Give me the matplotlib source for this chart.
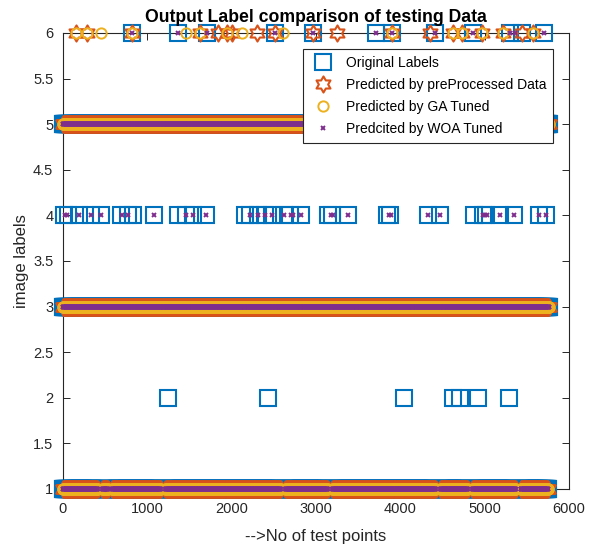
import numpy as np
import matplotlib
matplotlib.use("Agg")
import matplotlib.pyplot as plt
from matplotlib.path import Path
from matplotlib.lines import Line2D
from matplotlib.ticker import FormatStrFormatter

plt.rcParams['font.family'] = ['Liberation Sans', 'DejaVu Sans']

# ---- sparse classes: sample indices (x) of each marker ----
orig_label6 = [818, 1364, 1708, 2514, 2965, 3712, 3902, 4412, 4863, 5301, 5444, 5705]
pre_label6 = [154, 285, 818, 1625, 1838, 1945, 2004, 2301, 2514, 2965, 3250, 3902,
              4353, 4625, 4732, 4969, 5218, 5444, 5574]
ga_label6 = [154, 285, 451, 818, 1459, 1625, 1945, 2123, 2609, 3902, 4625, 4732,
             4969, 5218, 5574]
woa_label6 = [818, 1364, 1708, 2514, 2965, 3712, 3902, 4412, 4863, 5301, 5361, 5705]

orig_label4 = [12, 59, 190, 332, 451, 688, 771, 830, 1079, 1364, 1459, 1542, 1696,
               2159, 2218, 2313, 2396, 2479, 2621, 2692, 2823, 3143, 3190, 3380,
               3843, 3878, 4329, 4471, 4874, 4981, 5017, 5183, 5349, 5645, 5728]
woa_label4 = [24, 47, 190, 332, 451, 700, 771, 1079, 1459, 1542, 1696, 2218, 2313,
              2396, 2479, 2621, 2704, 2728, 2823, 3178, 3202, 3380, 3866, 3890,
              4329, 4471, 4981, 5005, 5029, 5183, 5349, 5645, 5728]

orig_label2 = [1245, 2431, 4044, 4625, 4708, 4922, 5290]

# ---- dense classes: index spans occupied by each label ----
span_label1 = [(0, 415), (465, 535), (580, 1160), (1215, 2585), (2635, 3140),
               (3195, 4420), (4475, 4800), (4855, 5370), (5425, 5755)]
span_label3 = [(0, 5765)]
span_label5 = [(0, 5765)]

band_step = 4

BLUE = (0.0, 0.447, 0.741)
ORANGE = (0.85, 0.325, 0.098)
YELLOW = (0.929, 0.694, 0.125)
PURPLE = (0.494, 0.184, 0.556)
AXCOL = '#262626'

# Star-of-David marker (six-pointed, point up)
_ang_out = np.deg2rad(90 + 60 * np.arange(6))
_ang_in = np.deg2rad(120 + 60 * np.arange(6))
_r_in = 1 / np.sqrt(3)
_verts = []
for a_o, a_i in zip(_ang_out, _ang_in):
    _verts.append((np.cos(a_o), np.sin(a_o)))
    _verts.append((_r_in * np.cos(a_i), _r_in * np.sin(a_i)))
_verts.append(_verts[0])
hexagram = Path(_verts, [Path.MOVETO] + [Path.LINETO] * 11 + [Path.CLOSEPOLY])

styles = {
    'orig': dict(marker='s', ms=11.0, mew=1.5, mfc='none', mec=BLUE),
    'pre': dict(marker=hexagram, ms=11.6, mew=1.5, mfc='none', mec=ORANGE),
    'ga': dict(marker='o', ms=7.4, mew=1.4, mfc='none', mec=YELLOW),
    'woa': dict(marker='x', ms=3.2, mew=1.4, mec=PURPLE),
}


def span_points(spans):
    return np.concatenate([np.arange(a, b + 1, band_step) for a, b in spans])


fig = plt.figure(figsize=(5.96, 5.48), dpi=100)
ax = fig.add_axes([0.1057, 0.1077, 0.8490, 0.8321])

series = {'orig': [], 'pre': [], 'ga': [], 'woa': []}
for lab, spans in ((1, span_label1), (3, span_label3), (5, span_label5)):
    idx = span_points(spans)
    for key in series:
        series[key].append((idx, np.full(idx.shape, lab)))
series['orig'] += [(np.array(orig_label6), np.full(len(orig_label6), 6)),
                   (np.array(orig_label4), np.full(len(orig_label4), 4)),
                   (np.array(orig_label2), np.full(len(orig_label2), 2))]
series['pre'] += [(np.array(pre_label6), np.full(len(pre_label6), 6))]
series['ga'] += [(np.array(ga_label6), np.full(len(ga_label6), 6))]
series['woa'] += [(np.array(woa_label6), np.full(len(woa_label6), 6)),
                  (np.array(woa_label4), np.full(len(woa_label4), 4))]

for z, key in enumerate(['orig', 'pre', 'ga', 'woa']):
    xs = np.concatenate([p[0] for p in series[key]])
    ys = np.concatenate([p[1] for p in series[key]])
    ax.plot(xs, ys, ls='none', clip_on=False, zorder=3 + z, **styles[key])

ax.set_xlim(0, 6000)
ax.set_ylim(1, 6)
ax.set_xticks(np.arange(0, 6001, 1000))
ax.set_yticks(np.arange(1, 6.01, 0.5))
ax.yaxis.set_major_formatter(FormatStrFormatter('%g'))
ax.tick_params(direction='in', top=True, right=True, length=5, width=0.7,
               labelsize=10.5, colors=AXCOL, labelcolor=AXCOL)
ax.tick_params(axis='x', pad=9.5)
ax.tick_params(axis='y', pad=7)
for sp in ax.spines.values():
    sp.set_color(AXCOL)
    sp.set_linewidth(0.8)

ax.set_title('Output Label comparison of testing Data', fontsize=12.7,
             fontweight='bold', pad=8)
ax.set_xlabel('-->No of test points', fontsize=12, color=AXCOL, labelpad=9)
ax.set_ylabel('image labels', fontsize=12, color=AXCOL, labelpad=3)

handles = [Line2D([], [], ls='none', **styles[k]) for k in ['orig', 'pre', 'ga', 'woa']]
labels = ['Original Labels', 'Predicted by preProcessed Data',
          'Predicted by GA Tuned', 'Predcited by WOA Tuned']
leg = ax.legend(handles, labels, loc='upper right', bbox_to_anchor=(0.9684, 0.9649),
                fontsize=10, frameon=True, fancybox=False, framealpha=1,
                edgecolor=AXCOL, borderpad=0.5, labelspacing=0.58,
                handletextpad=0.6, handlelength=2.0, borderaxespad=0)
leg.get_frame().set_linewidth(0.8)
leg.set_zorder(10)

fig.savefig('out.png', dpi=100)
